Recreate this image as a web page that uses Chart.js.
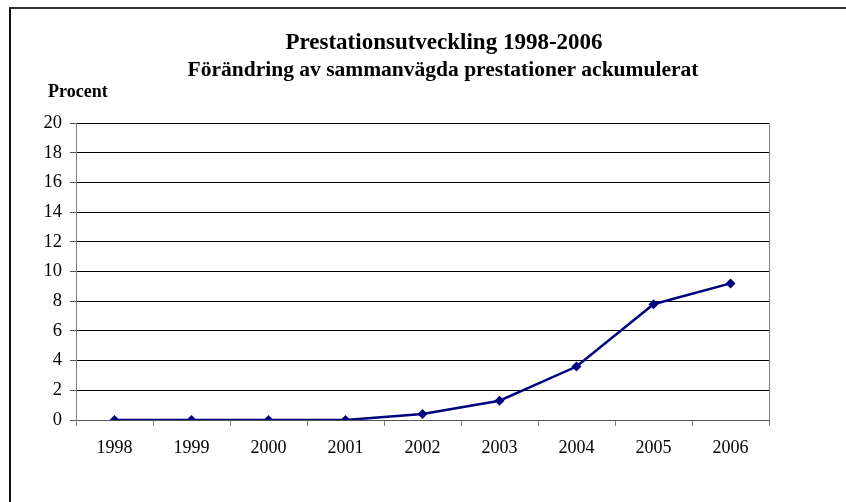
<!DOCTYPE html>
<html>
<head>
<meta charset="utf-8">
<script src="https://cdn.jsdelivr.net/npm/chart.js@4.4.1/dist/chart.umd.min.js"></script>
<style>
  html, body { margin: 0; padding: 0; background: #fff; }
  #wrap { position: relative; width: 846px; height: 502px; overflow: hidden; }
  #frame { position: absolute; left: 9px; top: 7px; right: -5px; bottom: -5px;
           border-top: 2px solid #333; border-left: 2px solid #111; }
  #chart { position: absolute; left: 0; top: 0; }
</style>
</head>
<body>
<div id="wrap">
  <div id="frame"></div>
  <canvas id="chart" width="846" height="502"></canvas>
</div>
<script>
// data
const years = ['1998', '1999', '2000', '2001', '2002', '2003', '2004', '2005', '2006'];
const change = [0, 0, 0, 0, 0.4, 1.3, 3.6, 7.8, 9.2];
const yTicks = [0, 2, 4, 6, 8, 10, 12, 14, 16, 18, 20];

const titleText = 'Prestationsutveckling 1998-2006';
const subtitleText = 'Förändring av sammanvägda prestationer ackumulerat';
const unitText = 'Procent';

const serif = '"Liberation Serif", "Times New Roman", serif';

// titles, unit label and plot frame
const decorations = {
    id: 'decorations',
    beforeDatasetsDraw(chart) {
        const ctx = chart.ctx;
        const a = chart.chartArea;
        ctx.save();
        ctx.strokeStyle = '#808080';
        ctx.lineWidth = 1;
        ctx.beginPath();
        ctx.moveTo(a.right + 0.5, a.top);
        ctx.lineTo(a.right + 0.5, a.bottom + 6);
        ctx.stroke();
        ctx.restore();
    },
    afterDraw(chart) {
        const ctx = chart.ctx;
        ctx.save();
        ctx.fillStyle = '#000';
        ctx.textAlign = 'center';
        ctx.textBaseline = 'alphabetic';
        ctx.font = 'bold 23px ' + serif;
        ctx.fillText(titleText, 444, 49);
        ctx.font = 'bold 21.5px ' + serif;
        ctx.fillText(subtitleText, 443, 76);
        ctx.textAlign = 'left';
        ctx.font = 'bold 18px ' + serif;
        ctx.fillText(unitText, 48, 97);
        ctx.restore();
    }
};

const ctx = document.getElementById('chart').getContext('2d');
new Chart(ctx, {
    type: 'line',
    data: {
        labels: years,
        datasets: [{
            data: change,
            borderColor: '#000080',
            backgroundColor: '#000080',
            borderWidth: 2.5,
            pointStyle: 'rectRot',
            pointRadius: 5,
            pointBorderWidth: 0,
            tension: 0
        }]
    },
    options: {
        responsive: false,
        animation: false,
        devicePixelRatio: 1,
        layout: { padding: { top: 123, right: 77, bottom: 0, left: 0 } },
        plugins: {
            legend: { display: false },
            title: { display: false },
            tooltip: { enabled: false }
        },
        scales: {
            x: {
                offset: true,
                grid: {
                    offset: true,
                    drawOnChartArea: false,
                    drawTicks: true,
                    tickLength: 6,
                    color: '#808080'
                },
                border: { color: '#555', width: 1 },
                ticks: {
                    color: '#000',
                    font: { family: serif, size: 18 },
                    padding: 11,
                    maxRotation: 0
                },
                afterFit(scale) { scale.height = 82; }
            },
            y: {
                min: 0,
                max: 20,
                afterBuildTicks(scale) {
                    scale.ticks = yTicks.map(v => ({ value: v }));
                },
                grid: {
                    color: '#000',
                    lineWidth: 1,
                    tickLength: 6,
                    tickColor: '#555'
                },
                border: { color: '#808080', width: 1 },
                ticks: {
                    color: '#000',
                    font: { family: serif, size: 18.5 },
                    padding: 8
                },
                afterFit(scale) { scale.width = 76; }
            }
        }
    },
    plugins: [decorations]
});
</script>
</body>
</html>
